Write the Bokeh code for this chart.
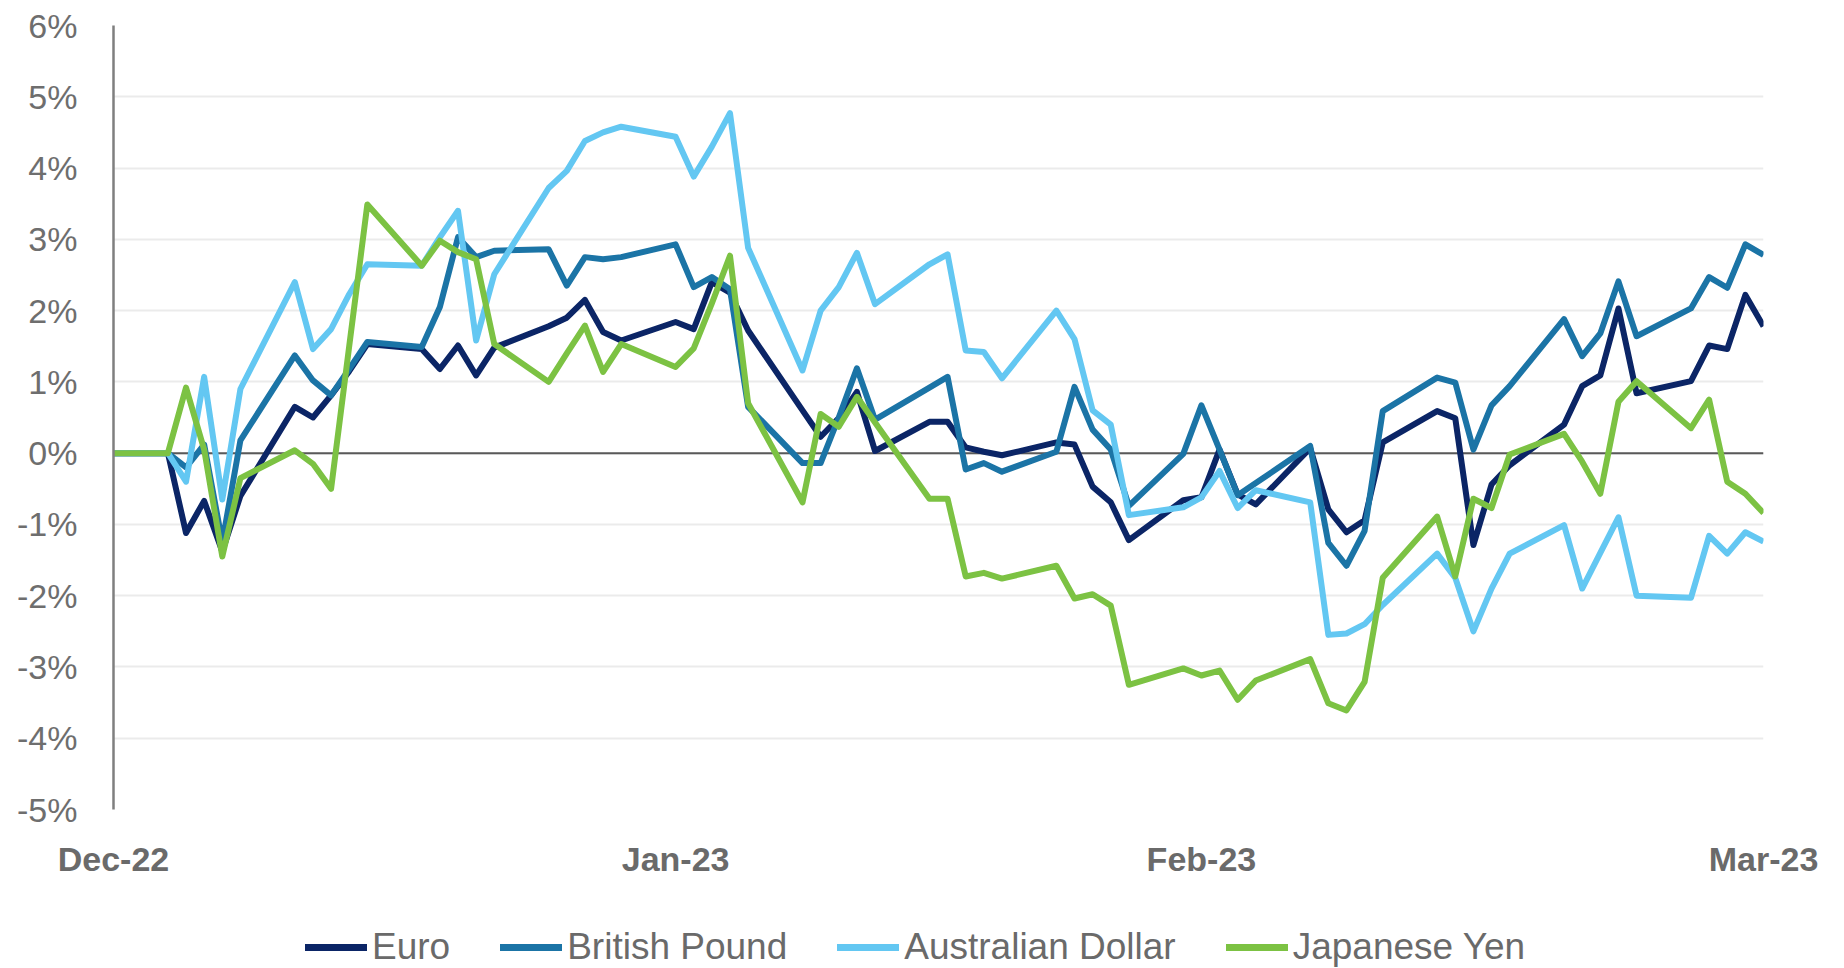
from datetime import date

from bokeh.plotting import figure
from bokeh.layouts import column
from bokeh.models import Range1d, FixedTicker, Span, Legend, LegendItem
from bokeh.embed import file_html
from bokeh.resources import INLINE

# ---------------- data (percent change since start) ----------------
dates = [
    "2022-12-02",
    "2022-12-05", "2022-12-06", "2022-12-07", "2022-12-08", "2022-12-09",
    "2022-12-12", "2022-12-13", "2022-12-14", "2022-12-15", "2022-12-16",
    "2022-12-19", "2022-12-20", "2022-12-21", "2022-12-22", "2022-12-23",
    "2022-12-26", "2022-12-27", "2022-12-28", "2022-12-29", "2022-12-30",
    "2023-01-02", "2023-01-03", "2023-01-04", "2023-01-05", "2023-01-06",
    "2023-01-09", "2023-01-10", "2023-01-11", "2023-01-12", "2023-01-13",
    "2023-01-16", "2023-01-17", "2023-01-18", "2023-01-19", "2023-01-20",
    "2023-01-23", "2023-01-24", "2023-01-25", "2023-01-26", "2023-01-27",
    "2023-01-30", "2023-01-31", "2023-02-01", "2023-02-02", "2023-02-03",
    "2023-02-06", "2023-02-07", "2023-02-08", "2023-02-09", "2023-02-10",
    "2023-02-13", "2023-02-14", "2023-02-15", "2023-02-16", "2023-02-17",
    "2023-02-20", "2023-02-21", "2023-02-22", "2023-02-23", "2023-02-24",
    "2023-02-27", "2023-02-28", "2023-03-01", "2023-03-02", "2023-03-03",
]

euro = [
    0.0,
    0.0, -1.12, -0.67, -1.38, -0.6,
    0.65, 0.5, 0.81, 1.15, 1.53,
    1.46, 1.18, 1.51, 1.09, 1.48,
    1.78, 1.9, 2.15, 1.7, 1.58,
    1.84, 1.74, 2.4, 2.25, 1.72,
    0.6, 0.23, 0.49, 0.86, 0.03,
    0.44, 0.44, 0.08, 0.02, -0.03,
    0.15, 0.12, -0.47, -0.69, -1.22,
    -0.66, -0.62, 0.05, -0.58, -0.72,
    0.07, -0.79, -1.11, -0.94, 0.15,
    0.59, 0.49, -1.29, -0.44, -0.17,
    0.4, 0.94, 1.09, 2.03, 0.84,
    1.01, 1.51, 1.46, 2.22, 1.78,
]

british_pound = [
    0.0,
    0.0, -0.2, 0.12, -1.25, 0.18,
    1.37, 1.02, 0.81, 1.18, 1.56,
    1.49, 2.05, 3.03, 2.75, 2.84,
    2.86, 2.35, 2.75, 2.72, 2.75,
    2.93, 2.33, 2.47, 2.3, 0.65,
    -0.14, -0.14, 0.5, 1.19, 0.47,
    0.92, 1.07, -0.23, -0.14, -0.26,
    0.02, 0.93, 0.33, 0.05, -0.74,
    -0.01, 0.67, 0.05, -0.59, -0.42,
    0.1, -1.26, -1.58, -1.09, 0.59,
    1.06, 0.99, 0.05, 0.67, 0.94,
    1.88, 1.36, 1.68, 2.41, 1.64,
    2.03, 2.47, 2.32, 2.93, 2.78,
]

australian_dollar = [
    0.0,
    0.0, -0.4, 1.07, -0.65, 0.9,
    2.4, 1.46, 1.74, 2.23, 2.65,
    2.63, 3.03, 3.4, 1.58, 2.51,
    3.72, 3.96, 4.38, 4.5, 4.58,
    4.44, 3.88, 4.3, 4.77, 2.88,
    1.16, 2.0, 2.33, 2.81, 2.09,
    2.65, 2.79, 1.44, 1.42, 1.05,
    2.0, 1.6, 0.6, 0.4, -0.87,
    -0.76, -0.62, -0.25, -0.77, -0.52,
    -0.69, -2.55, -2.53, -2.4, -2.13,
    -1.41, -1.75, -2.5, -1.9, -1.41,
    -1.01, -1.9, -1.4, -0.9, -2.0,
    -2.03, -1.16, -1.41, -1.11, -1.24,
]

japanese_yen = [
    0.0,
    0.0, 0.92, 0.05, -1.45, -0.35,
    0.04, -0.15, -0.5, 1.5, 3.49,
    2.63, 2.98, 2.82, 2.72, 1.53,
    1.0, 1.4, 1.79, 1.14, 1.53,
    1.21, 1.47, 2.1, 2.77, 0.7,
    -0.69, 0.55, 0.37, 0.79, 0.43,
    -0.64, -0.64, -1.73, -1.68, -1.76,
    -1.58, -2.04, -1.98, -2.14, -3.25,
    -3.02, -3.12, -3.05, -3.46, -3.19,
    -2.89, -3.51, -3.61, -3.21, -1.75,
    -0.89, -1.73, -0.64, -0.77, -0.02,
    0.27, -0.12, -0.57, 0.72, 1.01,
    0.35, 0.75, -0.4, -0.57, -0.84,
]

series_names = ["Euro", "British Pound", "Australian Dollar", "Japanese Yen"]
series_values = [euro, british_pound, australian_dollar, japanese_yen]
series_colors = ["#0b2566", "#1b74a6", "#63c7f2", "#7cc243"]

y_ticks = [-5, -4, -3, -2, -1, 0, 1, 2, 3, 4, 5, 6]
y_tick_labels = ["-5%", "-4%", "-3%", "-2%", "-1%", "0%", "1%", "2%", "3%", "4%", "5%", "6%"]

month_tick_dates = ["2022-12-02", "2023-01-02", "2023-01-31", "2023-03-03"]
month_labels = ["Dec-22", "Jan-23", "Feb-23", "Mar-23"]

# ---------------- helpers ----------------
start = date.fromisoformat(dates[0])


def day_offset(s):
    return (date.fromisoformat(s) - start).days


x_days = [day_offset(d) for d in dates]
x_ticks = [day_offset(d) for d in month_tick_dates]

LINE_W = 6
FONT = "Liberation Sans"
BORDER_L = 113
BORDER_R = 65

# ---------------- main chart ----------------
p = figure(
    width=1828,
    height=880,
    output_backend="svg",
    toolbar_location=None,
    x_range=Range1d(x_days[0], x_days[-1]),
    y_range=Range1d(y_ticks[0], y_ticks[-1]),
    min_border_left=BORDER_L,
    min_border_right=BORDER_R,
    min_border_top=25,
    min_border_bottom=70,
)
p.outline_line_color = None
p.background_fill_color = "white"
p.border_fill_color = "white"

p.xgrid.visible = False
p.ygrid.ticker = FixedTicker(ticks=y_ticks)
p.ygrid.grid_line_color = "#ebebeb"
p.ygrid.grid_line_width = 2

p.add_layout(Span(location=0, dimension="width", line_color="#595959",
                  line_width=2, level="underlay"))

yax = p.yaxis[0]
yax.ticker = FixedTicker(ticks=y_ticks)
yax.major_label_overrides = dict(zip(y_ticks, y_tick_labels))
yax.axis_line_color = "#7f7f7f"
yax.axis_line_width = 2.5
yax.major_tick_line_color = None
yax.minor_tick_line_color = None
yax.major_tick_out = 0
yax.major_tick_in = 0
yax.major_label_standoff = 36
yax.major_label_text_font = FONT
yax.major_label_text_font_size = "34px"
yax.major_label_text_color = "#6e6e6e"

xax = p.xaxis[0]
xax.ticker = FixedTicker(ticks=x_ticks)
xax.major_label_overrides = dict(zip(x_ticks, month_labels))
xax.axis_line_color = None
xax.major_tick_line_color = None
xax.minor_tick_line_color = None
xax.major_tick_out = 0
xax.major_tick_in = 0
xax.major_label_standoff = 30
xax.major_label_text_font = FONT
xax.major_label_text_font_style = "bold"
xax.major_label_text_font_size = "34px"
xax.major_label_text_color = "#6a6a6a"

for vals, col in zip(series_values, series_colors):
    p.line(x_days, vals, line_color=col, line_width=LINE_W, line_join="round")

# ---------------- legend strip (series drawn off-view, only swatches show) ----
leg = figure(
    width=1828,
    height=88,
    output_backend="svg",
    toolbar_location=None,
    x_axis_type=None,
    y_axis_type=None,
    x_range=Range1d(x_days[0], x_days[-1]),
    y_range=Range1d(100, 101),
    min_border_left=BORDER_L,
    min_border_right=BORDER_R,
    min_border_top=0,
    min_border_bottom=0,
)
leg.outline_line_color = None
leg.background_fill_color = "white"
leg.border_fill_color = "white"

items = []
for name, vals, col in zip(series_names, series_values, series_colors):
    r = leg.line(x_days, vals, line_color=col, line_width=LINE_W + 1, line_cap="round")
    items.append(LegendItem(label=name, renderers=[r]))

legend = Legend(
    items=items,
    orientation="horizontal",
    location=(305 - BORDER_L, 0),
    padding=0,
    margin=0,
    spacing=50,
    label_standoff=5,
    glyph_width=62,
    glyph_height=26,
    label_height=26,
    label_text_font=FONT,
    label_text_font_size="37px",
    label_text_color="#6a6a6a",
    border_line_color=None,
    background_fill_alpha=0,
)
leg.add_layout(legend)

layout = column(p, leg, spacing=0)
open("out.html", "w").write(file_html(layout, INLINE))
